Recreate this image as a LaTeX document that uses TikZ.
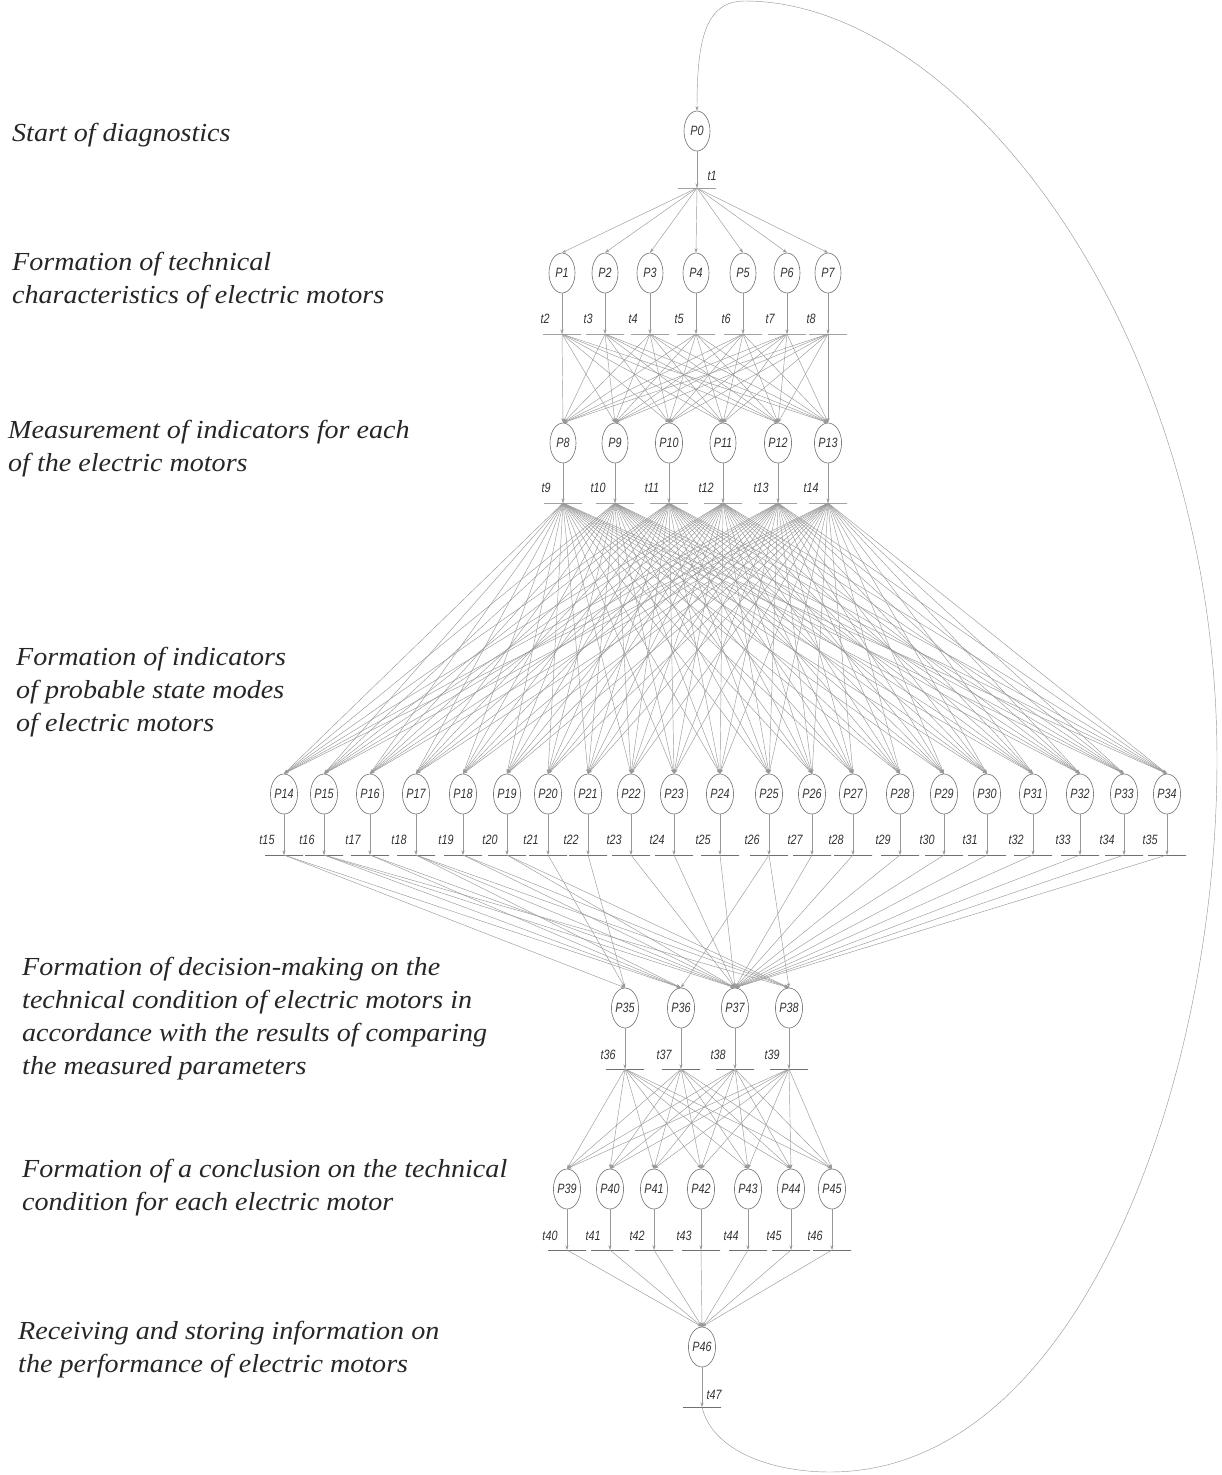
\documentclass[tikz,border=0pt]{standalone}
\usepackage{fontspec}
\setmainfont{Liberation Serif}
\newfontfamily\stagefont{Liberation Serif}[FakeStretch=1.08]
\newfontfamily\labfont{Liberation Sans}
\usetikzlibrary{shapes.geometric,arrows.meta}
\definecolor{arcgray}{HTML}{999999}
\definecolor{nodegray}{HTML}{707070}
\newcommand\cnd[1]{\scalebox{0.8}[1]{#1}}
\tikzset{
  place/.style={ellipse, draw=nodegray, line width=0.6pt, minimum width=26pt, minimum height=40pt, inner sep=0pt, font=\labfont\itshape\fontsize{13.5}{13.5}\selectfont, text=black!80},
  trans/.style={rectangle, draw=nodegray, line width=0.5pt, minimum width=38pt, minimum height=0pt, inner sep=0pt},
  tlab/.style={font=\labfont\itshape\fontsize{13.5}{13.5}\selectfont, text=black!80, inner sep=0pt},
  arc/.style={draw=arcgray, line width=0.45pt, -{Stealth[length=4.5pt,width=3pt]}},
  stage/.style={anchor=west, align=left, font=\stagefont\itshape\fontsize{26}{33}\selectfont, text=black!85, inner sep=0pt},
}
\begin{document}
\begin{tikzpicture}[x=1pt,y=-1pt]
\useasboundingbox (0,0) rectangle (1222,1475);
% ---------- stage texts ----------
\node[stage] (s1) at (12,135) {Start of diagnostics};
\node[stage] (s2) at (12,281) {Formation of technical\\characteristics of electric motors};
\node[stage] (s3) at (8,449) {Measurement of indicators for each\\of the electric motors};
\node[stage] (s4) at (16,692) {Formation of indicators\\of probable state modes\\of electric motors};
\node[stage] (s5) at (22,1019) {Formation of decision-making on the\\technical condition of electric motors in\\accordance with the results of comparing\\the measured parameters};
\node[stage] (s6) at (22,1188) {Formation of a conclusion on the technical\\condition for each electric motor};
\node[stage] (s7) at (18,1350) {Receiving and storing information on\\the performance of electric motors};
% ---------- places ----------
\node[place] (P0) at (697,131) {\cnd{P0}};
\foreach \i/\x in {1/562,2/605,3/650,4/696,5/743,6/787,7/828}
  \node[place] (P\i) at (\x,273) {\cnd{P\i}};
\foreach \i/\x in {8/563,9/615,10/669,11/723,12/778,13/828}
  \node[place] (P\i) at (\x,443) {\cnd{P\i}};
\foreach \i/\x in {14/284,15/324,16/370,17/416,18/463,19/507,20/548,21/588,22/631,23/674,24/720,25/769,26/812,27/853,28/900,29/944,30/987,31/1033,32/1080,33/1124,34/1167}
  \node[place] (P\i) at (\x,794) {\cnd{P\i}};
\foreach \i/\x in {35/625,36/681,37/735,38/789}
  \node[place] (P\i) at (\x,1008) {\cnd{P\i}};
\foreach \i/\x in {39/567,40/610,41/654,42/701,43/748,44/791,45/832}
  \node[place] (P\i) at (\x,1189) {\cnd{P\i}};
\node[place] (P46) at (702,1347) {\cnd{P46}};
% ---------- transitions ----------
\node[trans] (t1) at (697,188) {};
\node[tlab] (l1) at (712,176) {\cnd{t1}};
\foreach \i/\x in {2/562,3/605,4/650,5/696,6/743,7/787,8/828}{
  \node[trans] (t\i) at (\x,334) {};
  \node[tlab] (l\i) at (\x-17,319) {\cnd{t\i}};
}
\foreach \i/\x in {9/563,10/615,11/669,12/723,13/778,14/828}{
  \node[trans] (t\i) at (\x,503) {};
  \node[tlab] (l\i) at (\x-17,488) {\cnd{t\i}};
}
\foreach \i/\x in {15/284,16/324,17/370,18/416,19/463,20/507,21/548,22/588,23/631,24/674,25/720,26/769,27/812,28/853,29/900,30/944,31/987,32/1033,33/1080,34/1124,35/1167}{
  \node[trans] (t\i) at (\x,855) {};
  \node[tlab] (l\i) at (\x-17,840) {\cnd{t\i}};
}
\foreach \i/\x in {36/625,37/681,38/735,39/789}{
  \node[trans] (t\i) at (\x,1069) {};
  \node[tlab] (l\i) at (\x-17,1055) {\cnd{t\i}};
}
\foreach \i/\x in {40/567,41/610,42/654,43/701,44/748,45/791,46/832}{
  \node[trans] (t\i) at (\x,1250) {};
  \node[tlab] (l\i) at (\x-17,1236) {\cnd{t\i}};
}
\node[trans] (t47) at (702,1407) {};
\node[tlab] (l47) at (714,1395) {\cnd{t47}};
% ---------- arcs place -> transition ----------
\draw[arc] (P0.south) -- (t1.center);
\foreach \i [evaluate=\i as \j using int(\i+1)] in {1,...,45}
  \draw[arc] (P\i.south) -- (t\j.center);
\draw[arc] (P46.south) -- (t47.center);
% ---------- arcs transition -> place ----------
\foreach \b in {1,...,7} \draw[arc] (t1.center) -- (P\b.north);
\foreach \a in {2,...,8} \foreach \b in {8,...,13} \draw[arc] (t\a.center) -- (P\b.north);
\foreach \a in {9,...,14} \foreach \b in {14,...,34} \draw[arc] (t\a.center) -- (P\b.north);
\foreach \a/\b in {15/35,15/36,16/36,16/37,16/38,17/36,17/37,18/36,18/37,18/38,19/37,19/38,20/37,20/38,21/35,22/35,23/37,24/37,25/37,26/36,26/38,27/37,28/37,29/37,30/37,31/37,32/37,33/37,34/37,35/37}
  \draw[arc] (t\a.center) -- (P\b.north);
\foreach \a in {36,...,39} \foreach \b in {39,...,45} \draw[arc] (t\a.center) -- (P\b.north);
\foreach \a in {40,...,46} \draw[arc] (t\a.center) -- (P46.north);
% ---------- return arc ----------
\draw[arc] (t47.center) .. controls (712,1450) and (770,1472) .. (830,1472)
  .. controls (1080,1472) and (1217,1080) .. (1217,760)
  .. controls (1217,330) and (960,1) .. (745,1)
  .. controls (705,1) and (697,40) .. (P0.north);
\end{tikzpicture}
\end{document}
